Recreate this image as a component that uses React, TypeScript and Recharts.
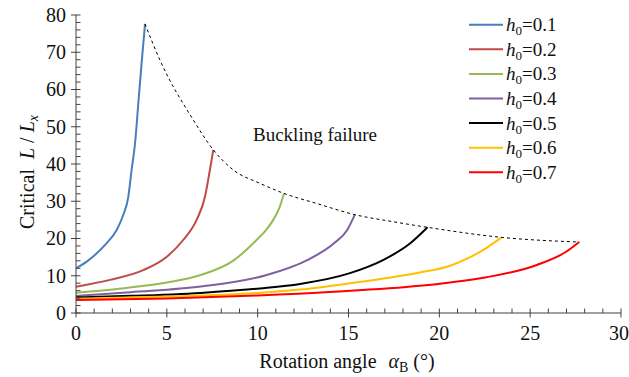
import React from "react";
import { LineChart, Line, XAxis, YAxis, Legend } from "recharts";

// ---- data ----
const h01X = [0, 0.59, 1.6, 2.24, 2.6, 2.88, 3.06, 3.25, 3.43, 3.61, 3.8];
const h01Y = [12.0, 13.8, 18.3, 22.3, 26.3, 31.2, 38.4, 45.5, 56.3, 67.0, 77.6];

const h02X = [0, 1.87, 3.7, 5.0, 5.9, 6.64, 7.1, 7.37, 7.56];
const h02Y = [7.06, 8.9, 11.5, 15.1, 19.6, 25.0, 31.2, 38.4, 43.8];

const h03X = [0, 2.5, 5.0, 6.87, 8.7, 9.94, 10.45, 10.86, 11.2, 11.45];
const h03Y = [5.45, 6.6, 8.2, 10.2, 14.2, 19.6, 22.2, 25.0, 28.3, 32.1];

const h04X = [0, 3.0, 6.87, 10.5, 12.73, 14.2, 14.93, 15.35];
const h04Y = [4.56, 5.6, 7.1, 10.2, 14.2, 18.7, 22.3, 26.4];

const h05X = [0, 3.0, 6.87, 10.13, 12.33, 15.08, 16.9, 18.4, 19.35];
const h05Y = [4.2, 4.6, 5.4, 6.6, 7.8, 10.7, 14.2, 18.7, 23.0];

const h06X = [0, 5.0, 10.0, 12.36, 15.0, 17.0, 18.93, 20.6, 21.7, 22.6, 23.43];
const h06Y = [3.85, 4.4, 5.4, 6.3, 7.9, 9.3, 10.9, 12.7, 15.0, 17.5, 20.3];

const h07X = [0, 5.0, 10.0, 14.2, 18.93, 20.6, 22.6, 25.37, 27.0, 27.7];
const h07Y = [3.5, 3.9, 4.7, 5.7, 7.3, 8.2, 9.6, 12.9, 16.5, 19.05];

const envX = [3.8, 4.62, 6.46, 7.56, 8.66, 10.13, 11.45, 13.25, 15.35, 17.46, 19.35, 23.43, 27.7];
const envY = [77.6, 67.9, 51.8, 43.8, 38.4, 34.8, 32.1, 29.4, 26.4, 24.5, 23.0, 20.3, 19.05];

const seriesNames = ["0.1", "0.2", "0.3", "0.4", "0.5", "0.6", "0.7"];
const seriesColors = ["#4A7EBB", "#BE4B48", "#98B954", "#7D60A0", "#000000", "#FFC000", "#FF0000"];
const seriesXs = [h01X, h02X, h03X, h04X, h05X, h06X, h07X];
const seriesYs = [h01Y, h02Y, h03Y, h04Y, h05Y, h06Y, h07Y];

const xTicks = Array.from({ length: 31 }, (_, i) => i);
const yTicks = Array.from({ length: 41 }, (_, i) => i * 2);

const FONT = '"Liberation Serif", "Times New Roman", Times, "DejaVu Serif", serif';
const AXIS = "#404040";
const TXT = { fontFamily: FONT };

const toPoints = (xs: number[], ys: number[]) => xs.map((x, i) => ({ x, y: ys[i] }));

const XTick = (props: any) => {
  const { x, y, payload } = props;
  const v = payload.value;
  const major = v % 5 === 0;
  const last = v === 30;
  return (
    <g>
      <line x1={x} x2={x} y1={y - 4.5} y2={major ? y + 4.5 : y} stroke={AXIS} strokeWidth={1} />
      {major && (
        <text
          x={last ? x + 8 : x}
          y={y + 27}
          textAnchor={last ? "end" : "middle"}
          fontSize={20}
          style={TXT}
          fill="#111"
        >
          {v}
        </text>
      )}
    </g>
  );
};

const YTick = (props: any) => {
  const { x, y, payload } = props;
  const v = payload.value;
  const major = v % 10 === 0;
  return (
    <g>
      <line x1={major ? x - 5 : x} x2={x + 4.5} y1={y} y2={y} stroke={AXIS} strokeWidth={1} />
      {major && (
        <text x={x - 10} y={y} dy="0.34em" textAnchor="end" fontSize={20} style={TXT} fill="#111">
          {v}
        </text>
      )}
    </g>
  );
};

const LegendContent = () => (
  <svg width={165} height={175} style={{ display: "block" }}>
    {seriesNames.map((n, i) => {
      const cy = 14.7 + 24.6 * i;
      return (
        <g key={n}>
          <line x1={7} x2={41} y1={cy} y2={cy} stroke={seriesColors[i]} strokeWidth={2} />
          <text x={44} y={cy} dy="0.34em" fontSize={19} style={TXT} fill="#111">
            <tspan fontStyle="italic">h</tspan>
            <tspan fontSize={13} dy={4}>0</tspan>
            <tspan dy={-4}>{"=" + n}</tspan>
          </text>
        </g>
      );
    })}
  </svg>
);

export default function App() {
  return (
    <div style={{ position: "absolute", left: 0, top: 0, width: 629, height: 377, background: "#fff" }}>
      <LineChart width={629} height={377} margin={{ top: 15, right: 8, left: 0, bottom: 0 }}>
        <XAxis
          type="number"
          dataKey="x"
          domain={[0, 30]}
          ticks={xTicks}
          interval={0}
          tickSize={0}
          tickMargin={0}
          tickLine={false}
          tick={<XTick />}
          axisLine={{ stroke: AXIS }}
          height={64}
          allowDataOverflow
        />
        <YAxis
          type="number"
          dataKey="y"
          domain={[0, 80]}
          ticks={yTicks}
          interval={0}
          tickSize={0}
          tickMargin={0}
          tickLine={false}
          tick={<YTick />}
          axisLine={{ stroke: AXIS }}
          width={76}
          allowDataOverflow
        />
        <Legend
          layout="horizontal"
          align="center"
          verticalAlign="middle"
          content={<LegendContent />}
          wrapperStyle={{ position: "absolute", top: 10, left: 462, width: 165, height: 175 }}
        />
        {seriesNames.map((n, i) => (
          <Line
            key={n}
            data={toPoints(seriesXs[i], seriesYs[i])}
            dataKey="y"
            name={"h0=" + n}
            type="monotone"
            stroke={seriesColors[i]}
            strokeWidth={2}
            dot={false}
            activeDot={false}
            isAnimationActive={false}
          />
        ))}
        <Line
          data={toPoints(envX, envY)}
          dataKey="y"
          name="envelope"
          legendType="none"
          type="monotone"
          stroke="#000"
          strokeWidth={1}
          strokeDasharray="3 3"
          dot={false}
          activeDot={false}
          isAnimationActive={false}
        />
        <text x={253} y={141} fontSize={19} style={TXT} fill="#111">
          Buckling failure
        </text>
        <text x={347} y={368} textAnchor="middle" fontSize={20} style={TXT} fill="#111">
          Rotation angle
          <tspan dx={12} fontStyle="italic">α</tspan>
          <tspan dy={4} fontSize={14}>B</tspan>
          <tspan dy={-4}> (°)</tspan>
        </text>
        <text transform="rotate(-90)" x={-172} y={34} textAnchor="middle" fontSize={20} style={TXT} fill="#111">
          Critical
          <tspan dx={10} fontStyle="italic">L</tspan>
          <tspan> / </tspan>
          <tspan fontStyle="italic">L</tspan>
          <tspan dy={4} fontSize={14} fontStyle="italic">x</tspan>
        </text>
      </LineChart>
    </div>
  );
}
